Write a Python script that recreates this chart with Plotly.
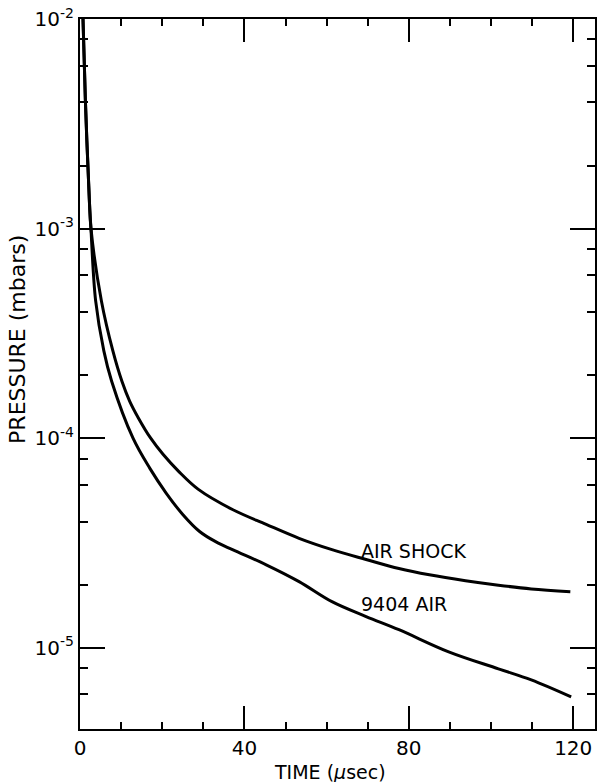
import plotly.graph_objects as go
import numpy as np

# AIR SHOCK curve (time in microseconds, pressure in mbars)
shock_t = [0.73, 1.31, 2.28, 2.65, 5.2, 8.0, 10.2, 12.1, 14.2, 17.2, 20.2, 24.0, 28.8,
           37.1, 45.3, 53.3, 61.3, 69.6, 77.6, 85.0, 93.8, 101.8, 109.8, 119.3]
shock_p = [1.0e-2, 4.09e-3, 1.36e-3, 1.01e-3, 4.53e-4, 2.61e-4, 1.87e-4, 1.50e-4, 1.25e-4,
           1.0e-4, 8.38e-5, 6.95e-5, 5.7e-5, 4.57e-5, 3.88e-5, 3.33e-5, 2.94e-5, 2.64e-5,
           2.39e-5, 2.23e-5, 2.09e-5, 1.99e-5, 1.91e-5, 1.85e-5]

# 9404 AIR curve
air_t = [0.73, 1.31, 2.28, 2.65, 3.8, 5.8, 7.7, 12.9, 17.0, 21.0, 25.0, 29.1, 33.0, 37.1,
         45.3, 53.3, 61.3, 69.6, 77.6, 89.7, 101.8, 109.8, 119.5]
air_p = [1.0e-2, 4.09e-3, 1.36e-3, 1.01e-3, 4.53e-4, 2.61e-4, 1.87e-4, 1.0e-4, 7.18e-5,
         5.46e-5, 4.33e-5, 3.59e-5, 3.21e-5, 2.94e-5, 2.49e-5, 2.07e-5, 1.66e-5, 1.41e-5,
         1.22e-5, 9.57e-6, 7.94e-6, 7.03e-6, 5.83e-6]

x_major = [0, 40, 80, 120]
x_minor = [10, 20, 30, 50, 60, 70, 90, 100, 110]
y_major = [1e-2, 1e-3, 1e-4, 1e-5]
y_major_text = ["10<sup>-2</sup>", "10<sup>-3</sup>", "10<sup>-4</sup>", "10<sup>-5</sup>"]
y_minor = [m * 10.0 ** e for e in (-6, -5, -4, -3) for m in (2, 4, 6, 8)]

labels = ["AIR SHOCK", "9404 AIR"]
label_x = [67.9, 67.9]
label_p = [2.91e-5, 1.61e-5]

FONT = "DejaVu Sans, Liberation Sans, sans-serif"

fig = go.Figure()
fig.add_trace(go.Scatter(x=shock_t, y=shock_p, mode="lines",
                         line=dict(color="black", width=3, shape="spline", smoothing=1.0),
                         showlegend=False, hoverinfo="skip"))
fig.add_trace(go.Scatter(x=air_t, y=air_p, mode="lines",
                         line=dict(color="black", width=3, shape="spline", smoothing=1.0),
                         showlegend=False, hoverinfo="skip"))

for txt, lx, lp in zip(labels, label_x, label_p):
    fig.add_annotation(x=lx, y=np.log10(lp), xref="x", yref="y", text=txt, showarrow=False,
                       xanchor="left", yanchor="middle",
                       font=dict(family=FONT, size=19, color="black"))

fig.add_annotation(text="TIME (<i>μ</i>sec)", xref="paper", yref="paper", x=0.485, y=0,
                   yshift=-43, showarrow=False, xanchor="center", yanchor="middle",
                   font=dict(family=FONT, size=19, color="black"))
fig.add_annotation(text="PRESSURE (mbars)", xref="paper", yref="paper", x=0, xshift=-62,
                   y=0.548, showarrow=False, textangle=-90, xanchor="center", yanchor="middle",
                   font=dict(family=FONT, size=22, color="black"))

fig.update_xaxes(range=[0, 125.3], showgrid=False, zeroline=False,
                 showline=True, linecolor="black", linewidth=2, mirror="allticks",
                 tickmode="array", tickvals=x_major, ticktext=[str(v) for v in x_major],
                 ticks="inside", ticklen=23, tickwidth=2, tickcolor="black",
                 tickfont=dict(family=FONT, size=20, color="black"),
                 minor=dict(tickmode="array", tickvals=x_minor, ticks="inside",
                            ticklen=7, tickwidth=2, tickcolor="black", showgrid=False))
fig.update_yaxes(type="log", range=[np.log10(4.1e-6), -2], showgrid=False, zeroline=False,
                 showline=True, linecolor="black", linewidth=2, mirror="allticks",
                 tickmode="array", tickvals=y_major, ticktext=y_major_text,
                 ticks="inside", ticklen=25, tickwidth=2, tickcolor="black",
                 tickfont=dict(family=FONT, size=20, color="black"),
                 minor=dict(tickmode="array", tickvals=y_minor, ticks="inside",
                            ticklen=8, tickwidth=2, tickcolor="black", showgrid=False))

fig.update_layout(width=598, height=782, plot_bgcolor="white", paper_bgcolor="white",
                  margin=dict(l=80, r=1, t=19, b=53), showlegend=False)

fig.write_html("out.html", config={"displayModeBar": False},
               post_script="document.body.style.margin='0px';"
                           "document.body.style.overflow='hidden';")
